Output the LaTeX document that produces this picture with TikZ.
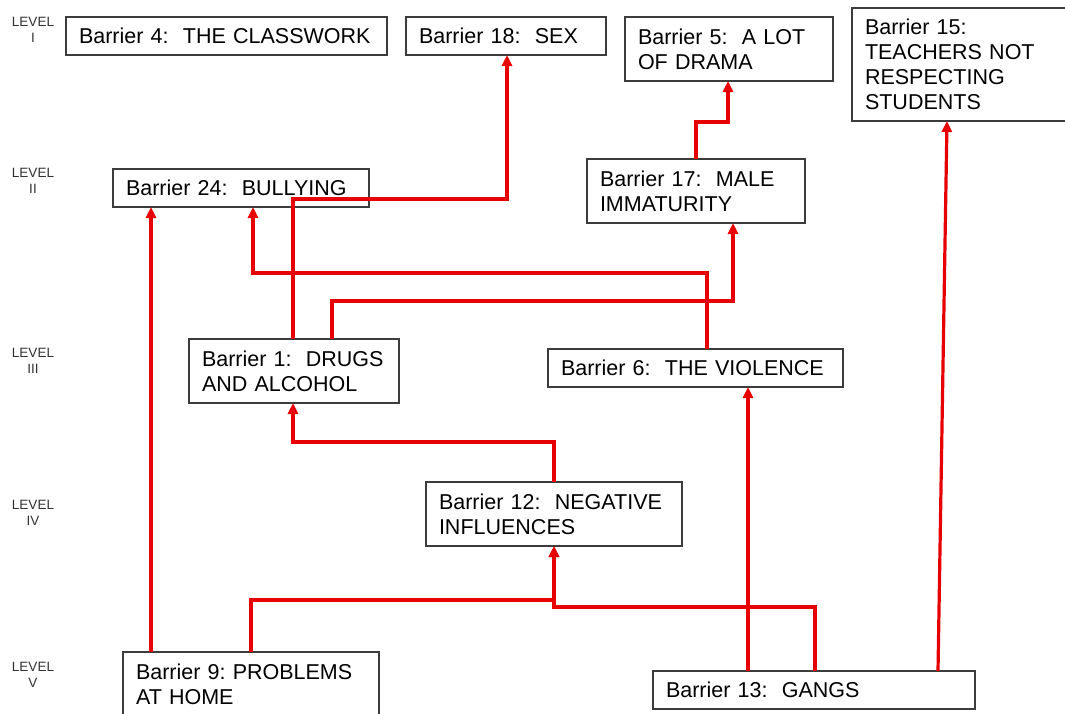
\documentclass[tikz,border=0pt]{standalone}
\usepackage{fontspec}
\setmainfont{Liberation Sans}
\usetikzlibrary{arrows.meta}
\usetikzlibrary{positioning}
\definecolor{linkred}{RGB}{230,0,0}
\definecolor{boxgray}{RGB}{60,60,60}
\definecolor{levelgray}{RGB}{50,50,50}
\frenchspacing

\begin{document}
\begin{tikzpicture}[x=1pt,y=-1pt,>={Triangle[length=11pt,width=10pt]},
			line join=miter]
			\tikzstyle{barrier}=[draw=boxgray,line width=1.4pt,fill=white,anchor=north west,
			align=left,inner xsep=13pt,inner ysep=0pt,outer sep=0pt,
			font=\fontsize{21.5}{25}\selectfont]
			\tikzstyle{level}=[align=center,inner sep=0pt,text=levelgray,
			font=\fontsize{13.5}{15.5}\selectfont]
			\tikzstyle{link}=[->,draw=linkred,line width=3.2pt]
			
			\useasboundingbox (0,0) rectangle (1065,713);
			\fill[white] (0,0) rectangle (1065,713);
			
			% levels
			\node[level] (lv1) at (33,30)  {LEVEL\\I};
			\node[level] (lv2) at (33,181) {LEVEL\\II};
			\node[level] (lv3) at (33,361) {LEVEL\\III};
			\node[level] (lv4) at (33,513) {LEVEL\\IV};
			\node[level] (lv5) at (33,675) {LEVEL\\V};
			
			% barriers
			\node[barrier,text width=295pt,minimum height=38pt]  (b4)  at (66,17)  {Barrier 4:\ \ THE CLASSWORK};
			\node[barrier,text width=174pt,minimum height=38pt]  (b18) at (406,17) {Barrier 18:\ \ SEX};
			\node[barrier,text width=182pt,minimum height=64pt]  (b5)  at (625,17) {Barrier 5:\ \ A LOT\\OF DRAMA};
			\node[barrier,text width=190pt,minimum height=113pt] (b15) at (852,8)  {Barrier 15:\\TEACHERS NOT\\RESPECTING\\STUDENTS};
			\node[barrier,text width=230pt,minimum height=38pt]  (b24) at (113,169) {Barrier 24:\ \ BULLYING};
			\node[barrier,text width=192pt,minimum height=64pt]  (b17) at (587,159) {Barrier 17:\ \ MALE\\IMMATURITY};
			\node[barrier,text width=184pt,minimum height=64pt]  (b1)  at (189,339) {Barrier 1:\ \ DRUGS\\AND ALCOHOL};
			\node[barrier,text width=269pt,minimum height=38pt]  (b6)  at (548,349) {Barrier 6:\ \ THE VIOLENCE};
			\node[barrier,text width=230pt,minimum height=64pt]  (b12) at (426,482) {Barrier 12:\ \ NEGATIVE\\INFLUENCES};
			\node[barrier,text width=230pt,minimum height=64pt]  (b9)  at (123,652) {Barrier 9: PROBLEMS\\AT HOME};
			\node[barrier,text width=296pt,minimum height=38pt]  (b13) at (653,671) {Barrier 13:\ \ GANGS};
			
			% links
			\draw[link] ([xshift=28pt]b9.north west) -- ([xshift=38pt]b24.south west);
			\draw[link] ([xshift=128pt]b9.north west) -- ++(0,-52) -| ([xshift=128pt]b12.south west);
			\draw[link] ([xshift=162pt]b13.north west) -- ++(0,-64) -| ([xshift=128pt]b12.south west);
			\draw[link] ([xshift=95pt]b13.north west) -- ([xshift=200pt]b6.south west);
			\draw[link] ([xshift=285pt]b13.north west) -- ([xshift=95pt]b15.south west);
			\draw[link] ([xshift=128pt]b12.north west) -- ++(0,-40) -| ([xshift=104pt]b1.south west);
			\draw[link] ([xshift=104pt]b1.north west) -- ++(0,-140) -| ([xshift=101pt]b18.south west);
			\draw[link] ([xshift=143pt]b1.north west) -- ++(0,-38) -| ([xshift=146pt]b17.south west);
			\draw[link] ([xshift=159pt]b6.north west) -- ++(0,-76) -| ([xshift=140pt]b24.south west);
			\draw[link] ([xshift=109pt]b17.north west) -- ++(0,-37) -| ([xshift=103pt]b5.south west);
			
\end{tikzpicture}
\end{document}
